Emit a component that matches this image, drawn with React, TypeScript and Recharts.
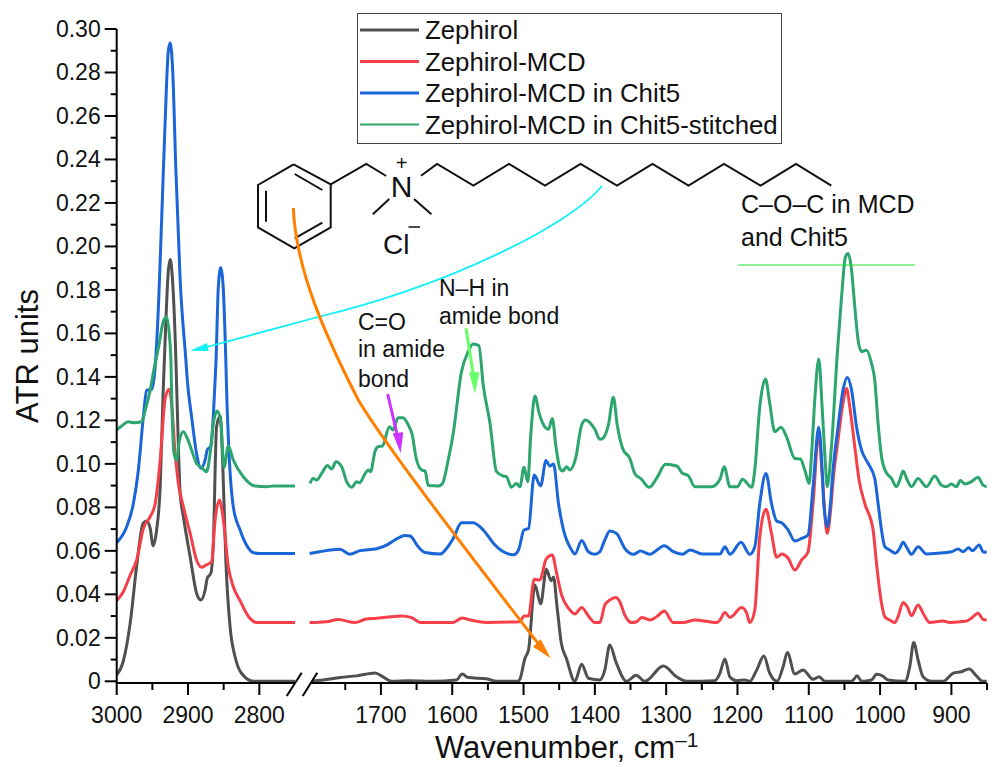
import { LineChart, Line, XAxis, YAxis, Legend } from 'recharts'

type Pt = [number, number]

// [wavenumber, ATR units]
const zephirol: Pt[] = [
  [3000, .003], [2991, .009], [2981, .027], [2972, .053], [2963, .0726], [2958, .0737], [2953, .0703], [2949, .0624],
  [2944, .0696], [2939, .0895], [2935, .132], [2931, .166], [2928, .187], [2925, .194], [2922, .186], [2917, .148], [2915, .125], [2911, .0864],
  [2906.5, .0757], [2897, .0573], [2888, .0405], [2882, .0374], [2876, .042], [2873, .0474], [2868, .0497], [2864.5, .0634],
  [2860, .117], [2855, .122], [2851.5, .102], [2847, .0558], [2841, .025], [2834, .0113], [2825, .0037], [2808, 0], [2750, 0],
  [1800, 0], [1781, .0006], [1757, .0018], [1734, .0025], [1708, .0038], [1697, .002], [1685, 0], [1659, .0003], [1627, 0],
  [1594, .0006], [1586, .0034], [1577.5, .0017], [1552, .0012], [1538, 0], [1507.5, 0], [1505, .001], [1498, .0106], [1493, .0144],
  [1484, .0443], [1476, .0356], [1468, .0515], [1461.5, .0463], [1458, .048], [1453, .0343], [1447, .0175], [1440, .0106],
  [1428, 0], [1418.5, .0078], [1409, .0014], [1393, .0006], [1386, .0052], [1379, .0167], [1370.5, .009], [1355.5, 0],
  [1342, .0028], [1330, 0], [1304, .007], [1285, .002], [1271, 0], [1232, .0003], [1224.6, .0037], [1217.6, .0103],
  [1210.6, .002], [1201, .0003], [1189.6, .0006], [1182.7, 0], [1173, .0052], [1163, .0116], [1154.7, .0037], [1144.4, 0],
  [1136, .0067], [1130, .0132], [1119.6, .0034], [1108, .0052], [1094, .0009], [1085.5, .0021], [1077.6, 0], [1040, 0],
  [1032, .0025], [1026, 0], [1012, .0006], [1005, .0032], [996.7, .0025], [988.8, .0006], [965, 0], [958.4, .0067],
  [952.8, .0179], [946.7, .0098], [939.7, .0021], [928, 0], [911.7, 0], [897.6, .0037], [886, .0044], [875, .0057],
  [865, .0025], [855.6, 0], [850, 0],
]

const zephirolMcd: Pt[] = [
  [3000, .0371], [2990.7, .0412], [2981, .0489], [2972, .0558], [2962.6, .0703], [2953, .0757], [2946, .0818], [2939, .1018],
  [2932, .1301], [2926.6, .1343], [2923, .1278], [2918, .1048], [2913.5, .091], [2906.5, .0803], [2897, .068], [2888, .0558],
  [2881, .0524], [2874, .0536], [2867, .055], [2862, .0742], [2856, .0834], [2851, .0757], [2843.5, .0527], [2836.5, .0435],
  [2827, .0371], [2815, .0297], [2804, .0271], [2750, .0271],
  [1800, .027], [1776.6, .0274], [1760, .0284], [1736, .027], [1722, .0285], [1706, .029], [1689, .0296], [1671, .03],
  [1657, .0293], [1645, .0271], [1599, .0271], [1586, .0291], [1575, .0282], [1552, .0271], [1505, .0274], [1499.4, .03],
  [1493, .03], [1485, .0469], [1477, .0466], [1468.5, .0561], [1459.7, .0581], [1453.6, .0497], [1446.6, .0397], [1437, .0336],
  [1428, .031], [1418.5, .034], [1409, .03], [1400, .027], [1393, .027], [1386, .0351], [1379, .0374], [1370.5, .0385],
  [1365, .0366], [1358, .0305], [1348.5, .027], [1341.4, .0274], [1334.4, .0294], [1323, .0282], [1313.4, .0297], [1302.6, .0323],
  [1290, .027], [1276, .027], [1259.7, .0282], [1229, .027], [1224.6, .0282], [1217.6, .0316], [1210.6, .0294], [1194, .0339],
  [1187, .0313], [1182.7, .027], [1175.7, .0328], [1168.7, .0665], [1160, .0791], [1152.3, .068], [1145, .057], [1138, .0585],
  [1129, .0566], [1119.6, .0512], [1110, .0558], [1101, .0596], [1094, .0818], [1086, .114], [1081, .094], [1074.3, .068],
  [1069, .08], [1066, .092], [1059, .111], [1052, .128], [1047, .1347], [1042.5, .1263], [1035.5, .1079], [1029.4, .0925],
  [1021.5, .0818], [1009.8, .0696], [1005, .0542], [998, .0359], [993.4, .0297], [986.4, .0282], [979.4, .027], [974.8, .0297],
  [967.7, .0363], [962, .0343], [956, .0302], [946.7, .0351], [939.7, .0313], [930.4, .027], [911.7, .0277], [902.3, .0271],
  [879, .0277], [872, .029], [862.6, .0313], [855.6, .0285], [850, .0282],
]

const zephirolMcdChit5: Pt[] = [
  [3000, .0638], [2986, .0711], [2976.6, .0818], [2969.6, .0972], [2962.6, .1217], [2958, .1339], [2951, .1343], [2946, .145],
  [2941, .176], [2937, .212], [2932, .258], [2927.6, .29], [2925, .2936], [2921.5, .281], [2917, .235], [2911, .1845],
  [2903, .1477], [2901, .1385], [2895, .1217], [2888, .1048], [2882, .098], [2876, .1018], [2873, .1064], [2868, .1082],
  [2862, .1385], [2860.7, .1477], [2857.5, .1814], [2854, .1903], [2851, .183], [2847, .1477], [2846, .1355], [2842, .1018],
  [2836.5, .0803], [2827, .0696], [2818, .0627], [2808, .0591], [2799, .0588], [2750, .0588],
  [1800, .0588], [1786, .0596], [1757.5, .0607], [1743.5, .0584], [1729.5, .0601], [1706, .061], [1690, .063], [1680.4, .065],
  [1666.4, .0671], [1659, .0668], [1647.7, .0619], [1638, .0592], [1617, .0585], [1608, .0611], [1598.6, .0657], [1587, .0729],
  [1570.6, .0729], [1556.5, .0696], [1542, .0634], [1530.6, .06], [1514, .0582], [1507, .0604], [1499.4, .0696], [1493, .0703],
  [1485, .0949], [1476, .0898], [1468.5, .1015], [1463, .099], [1458, .0999], [1451, .0818], [1444, .0696], [1432.6, .0604],
  [1428, .0585], [1418.5, .0647], [1409, .0596], [1400, .0584], [1393, .0596], [1386, .065], [1379, .0691], [1369.5, .068],
  [1358, .0611], [1346, .0584], [1336, .0599], [1323, .0584], [1302.6, .0624], [1290, .0596], [1277, .0584], [1266.7, .0604],
  [1248, .0585], [1224.6, .0585], [1217.6, .0619], [1210.6, .0584], [1195, .0639], [1182.7, .0584], [1175.7, .0619], [1168.7, .0818],
  [1160, .0956], [1152.3, .0818], [1145, .0737], [1138, .0729], [1129, .0696], [1119.6, .0645], [1110, .0657], [1101, .0673],
  [1094, .0895], [1086, .1168], [1081, .0956], [1079, .0818], [1074, .0711], [1069.6, .0818], [1066, .0971], [1059, .117],
  [1052, .1339], [1046, .1397], [1040, .1339], [1033, .117], [1026, .1063], [1017, .1003], [1007.5, .0933], [1002.8, .0818],
  [998, .0696], [993.4, .0619], [986.4, .0604], [978.5, .0589], [972.4, .0612], [967.7, .0639], [962, .0612], [956, .0584],
  [946.7, .0619], [935, .0586], [918.7, .0589], [900, .0596], [890.6, .0608], [883.6, .0596], [875.7, .0614], [870.5, .06],
  [861, .0627], [855.6, .0596], [850, .0593],
]

const zephirolMcdStitched: Pt[] = [
  [3000, .1156], [2993, .1174], [2983.6, .1194], [2976.6, .1189], [2965, .1194], [2960, .1248], [2953, .1339], [2948, .1431],
  [2941.6, .1532], [2934, .1661], [2930, .1676], [2926, .1585], [2924, .1477], [2923, .1325], [2919.6, .1048], [2916, .1018],
  [2912, .1109], [2906.5, .1148], [2901, .1117], [2895, .1064], [2888, .1002], [2881, .0984], [2874, .0964], [2869, .1048],
  [2864.5, .1186], [2859, .1243], [2854, .1194], [2849.5, .0984], [2843.5, .1082], [2836.5, .1018], [2822.5, .0941], [2806, .0898],
  [2790, .0895], [2780, .0898], [2750, .0898],
  [1799.5, .091], [1795, .0933], [1790, .0926], [1783, .0956], [1775, .0993], [1769, .0976], [1763, .101], [1755, .0987],
  [1748, .0918], [1741, .0892], [1734, .0918], [1730, .0913], [1722, .0956], [1718, .0972], [1714.5, .0964], [1708.4, .1056],
  [1704, .1079], [1698, .1082], [1688, .1171], [1683, .1156], [1676, .1212], [1669, .1212], [1661.7, .1179], [1656, .1133],
  [1651, .1033], [1643, .0972], [1638, .0967], [1633.6, .09], [1619.6, .0898], [1613.6, .091], [1605.6, .1018], [1598.6, .114],
  [1587, .1424], [1577.6, .1516], [1570.6, .1551], [1562.6, .1543], [1556.5, .1362], [1547, .1186], [1537.9, .0964], [1528.5, .0944],
  [1524, .0941], [1517, .0892], [1510, .091], [1505, .0895], [1499.4, .0984], [1494, .0918], [1490, .1125], [1484, .1312],
  [1478, .1232], [1473, .1186], [1465, .1159], [1459.7, .1209], [1454.5, .1079], [1449, .0979], [1445, .0967], [1439.6, .0987],
  [1435, .0972], [1427, .1025], [1418.5, .1179], [1413, .1202], [1400, .1159], [1393, .1113], [1388, .112], [1381, .1179],
  [1374, .1306], [1368.6, .1179], [1361, .1071], [1351, .1025], [1344, .0956], [1334.4, .0929], [1323.7, .0892], [1313.4, .0933],
  [1300.8, .0998], [1285, .099], [1278, .0959], [1269, .0946], [1259.7, .0895], [1236, .0895], [1224.6, .0929], [1218.6, .0987],
  [1210.6, .0895], [1200, .0895], [1193, .0929], [1180, .0892], [1175.7, .0972], [1168.7, .1263], [1160.7, .139], [1154.7, .1278],
  [1147.7, .1148], [1139, .1168], [1131.3, .1125], [1119.6, .1025], [1111.7, .1022], [1105.6, .0972], [1099.5, .091], [1096, .1048],
  [1091.6, .1293], [1086, .1482], [1081.3, .1263], [1077.6, .1048], [1074, .0895], [1068.2, .1079], [1060, .1508], [1054, .1769],
  [1048.6, .1952], [1044.8, .1968], [1040, .1891], [1035.5, .1723], [1030.8, .1569], [1026, .1516], [1019, .1523], [1012, .1462],
  [1007.5, .1386], [1002.8, .1186], [998, .1033], [992, .0964], [984, .0933], [977, .0895], [972.4, .0926], [967.7, .0967],
  [962, .0926], [956, .0895], [946.7, .0933], [935, .0895], [923.4, .0944], [914, .0902], [907, .0895], [900, .0907],
  [893, .0895], [887.4, .0923], [881, .0907], [872, .0918], [862.6, .0938], [855.6, .0902], [850, .0895],
]

const xTicks = [3000, 2950, 2900, 2850, 2800, 1750, 1700, 1650, 1600, 1550, 1500, 1450, 1400, 1350, 1300, 1250, 1200, 1150, 1100, 1050, 1000, 950, 900, 850]
const xLabels = [3000, 2900, 2800, 1700, 1600, 1500, 1400, 1300, 1200, 1100, 1000, 900]
const yTicks = [0, .01, .02, .03, .04, .05, .06, .07, .08, .09, .1, .11, .12, .13, .14, .15, .16, .17, .18, .19, .2, .21, .22, .23, .24, .25, .26, .27, .28, .29, .3]

const FONT = '"Liberation Sans", Arial, sans-serif'

// broken wavenumber axis: 2750-1800 is cut out, the scale stays the same on both sides
const toAxis = (wn: number) => (wn > 2000 ? 3000 - wn : 370.5 + 1700 - wn)
const fromAxis = (at: number) => (at < 260 ? 3000 - at : 370.5 + 1700 - at)

const toRows = (pts: Pt[]) => {
  const rows: { at: number; atr: number | null }[] = []
  pts.forEach(([wn, atr], i) => {
    if (i > 0 && pts[i - 1][0] > 2000 && wn < 2000) rows.push({ at: 260, atr: null })
    rows.push({ at: toAxis(wn), atr })
  })
  return rows
}

const XTick = ({ x, y, payload }: any) => {
  const wn = Math.round(fromAxis(payload.value))
  const major = xLabels.includes(wn)
  return (
    <g>
      <line x1={x} x2={x} y1={y} y2={y + (major ? 12 : 7)} stroke="#000" strokeWidth={2} />
      {major && (
        <text x={x} y={y + 40} textAnchor="middle" fontSize={23} fontFamily={FONT} fill="#111">
          {wn}
        </text>
      )}
    </g>
  )
}

const YTick = ({ x, y, payload }: any) => {
  const major = Math.round(payload.value * 100) % 2 === 0
  return (
    <g>
      <line x1={x} x2={x - (major ? 12 : 6)} y1={y} y2={y} stroke="#000" strokeWidth={2} />
      {major && (
        <text x={x - 16} y={y + 8} textAnchor="end" fontSize={23} fontFamily={FONT} fill="#111">
          {payload.value === 0 ? '0' : payload.value.toFixed(2)}
        </text>
      )}
    </g>
  )
}

const LegendBox = ({ payload }: any) => (
  <svg width={425} height={131} style={{ display: 'block' }}>
    <rect x={0.5} y={0.5} width={424} height={130} fill="#fff" stroke="#444" />
    {(payload || []).map((p: any, i: number) => (
      <g key={p.value}>
        <line x1={3} x2={62} y1={17 + i * 31.5} y2={17 + i * 31.5} stroke={p.color} strokeWidth={i === 3 ? 2 : 3} />
        <text x={68} y={26 + i * 31.5} fontSize={25.8} fontFamily={FONT} fill="#111">
          {p.value}
        </text>
      </g>
    ))}
  </svg>
)

const benzene = '293.6,164.3 330.7,184.3 330.7,227.3 294.3,248.3 258,227.3 258,185 293.6,164.3'
const chain = '421,175.7 437.1,164 473.4,185.7 509,164 545,185.7 580.6,164 617,185.7 652.5,164 688.5,185.7 724,164 760.5,185.7 796,164 831.3,185.7'

const Annotations = () => (
  <svg width={1002} height={767} style={{ position: 'absolute', left: 0, top: 0, pointerEvents: 'none' }} fontFamily={FONT} fill="#111">
    {/* axis break */}
    <polygon points="302,672 317,672 302,696 287,696" fill="#fff" />
    <line x1={286.7} y1={696} x2={301.7} y2={672.7} stroke="#000" strokeWidth={2} />
    <line x1={302.7} y1={696} x2={317.3} y2={672.7} stroke="#000" strokeWidth={2} />

    <text x={435} y={758} fontSize={31}>
      Wavenumber, cm<tspan dy={-11} fontSize={21}>–1</tspan>
    </text>
    <text transform="translate(38,356) rotate(-90)" textAnchor="middle" fontSize={31}>ATR units</text>

    {/* molecule */}
    <g fill="none" stroke="#111" strokeWidth={2}>
      <polyline points={benzene} />
      <line x1={294.7} y1={174} x2={322.3} y2={190} />
      <line x1={266} y1={190.7} x2={266} y2={221.7} />
      <line x1={294.7} y1={238.3} x2={322.3} y2={222.7} />
      <polyline points="330.7,184.3 366.3,164 386.2,176" />
      <polyline points={chain} />
      <line x1={389.3} y1={199} x2={372.8} y2={214.3} />
      <line x1={414} y1={199} x2={431.4} y2={214.3} />
    </g>
    <text x={401.5} y={197} textAnchor="middle" fontSize={30}>N</text>
    <text x={401.5} y={170} textAnchor="middle" fontSize={20}>+</text>
    <text x={383} y={254} fontSize={28}>Cl</text>
    <line x1={408.5} y1={227} x2={420} y2={227} stroke="#111" strokeWidth={1.5} />

    <text x={741} y={213} fontSize={25}>C–O–C in MCD</text>
    <text x={741} y={246} fontSize={25}>and Chit5</text>
    <line x1={738} y1={265} x2={915} y2={265} stroke="#22e022" strokeWidth={1.2} />
    <text x={439} y={296} fontSize={23}>N–H in</text>
    <text x={439} y={324} fontSize={23}>amide bond</text>
    <text x={358} y={330} fontSize={23}>C=O</text>
    <text x={358} y={357} fontSize={23}>in amide</text>
    <text x={358} y={387} fontSize={23}>bond</text>

    {/* arrows */}
    <path d="M602,186 C570,225 450,285 318,317 L207,347" fill="none" stroke="#10f0f8" strokeWidth={1.8} />
    <polygon points="190,350.7 207,343 208.5,351" fill="#10f0f8" />
    <path d="M293.3,208 C296,270 325,335 358.3,400 C385,445 470,555 540,646" fill="none" stroke="#ff8000" strokeWidth={3} />
    <polygon points="550.7,658.3 533,646.7 540.7,639.3" fill="#ff8000" />
    <line x1={387.7} y1={394} x2={396.7} y2={433} stroke="#cc33ff" strokeWidth={3} />
    <polygon points="392.7,433.3 403.3,432.3 400.7,453.3" fill="#cc33ff" />
    <line x1={466} y1={328.3} x2={473} y2={373} stroke="#66ff66" strokeWidth={3} />
    <polygon points="469,372.3 479.3,372.3 475,394" fill="#66ff66" />
  </svg>
)

const series = [
  { name: 'Zephirol', points: zephirol, color: '#505050' },
  { name: 'Zephirol-MCD', points: zephirolMcd, color: '#f5404a' },
  { name: 'Zephirol-MCD in Chit5', points: zephirolMcdChit5, color: '#1a66d9' },
  { name: 'Zephirol-MCD in Chit5-stitched', points: zephirolMcdStitched, color: '#2ca66e' },
]

export default function App() {
  return (
    <div style={{ position: 'absolute', left: 0, top: 0, width: 1002, height: 767, background: '#fff', overflow: 'hidden' }}>
      <LineChart width={1002} height={767} margin={{ top: 29, right: 15.3, bottom: 0, left: 0 }}>
        <XAxis
          type="number"
          dataKey="at"
          domain={[0, 1220]}
          ticks={xTicks.map(toAxis)}
          interval={0}
          height={84}
          tickLine={false}
          tickSize={0}
          tickMargin={0}
          axisLine={{ stroke: '#000', strokeWidth: 2 }}
          tick={<XTick />}
          allowDataOverflow
        />
        <YAxis
          type="number"
          domain={[-0.00078, 0.3]}
          ticks={yTicks}
          interval={0}
          width={116.7}
          tickLine={false}
          tickSize={0}
          tickMargin={0}
          axisLine={{ stroke: '#000', strokeWidth: 2 }}
          tick={<YTick />}
          allowDataOverflow
        />
        {series.map((s) => (
          <Line
            key={s.name}
            name={s.name}
            data={toRows(s.points)}
            dataKey="atr"
            type="monotone"
            stroke={s.color}
            strokeWidth={3}
            dot={false}
            activeDot={false}
            isAnimationActive={false}
          />
        ))}
        <Legend
          layout="vertical"
          align="center"
          verticalAlign="middle"
          content={<LegendBox />}
          wrapperStyle={{ left: 357, top: 13, width: 425, height: 131 }}
        />
      </LineChart>
      <Annotations />
    </div>
  )
}
